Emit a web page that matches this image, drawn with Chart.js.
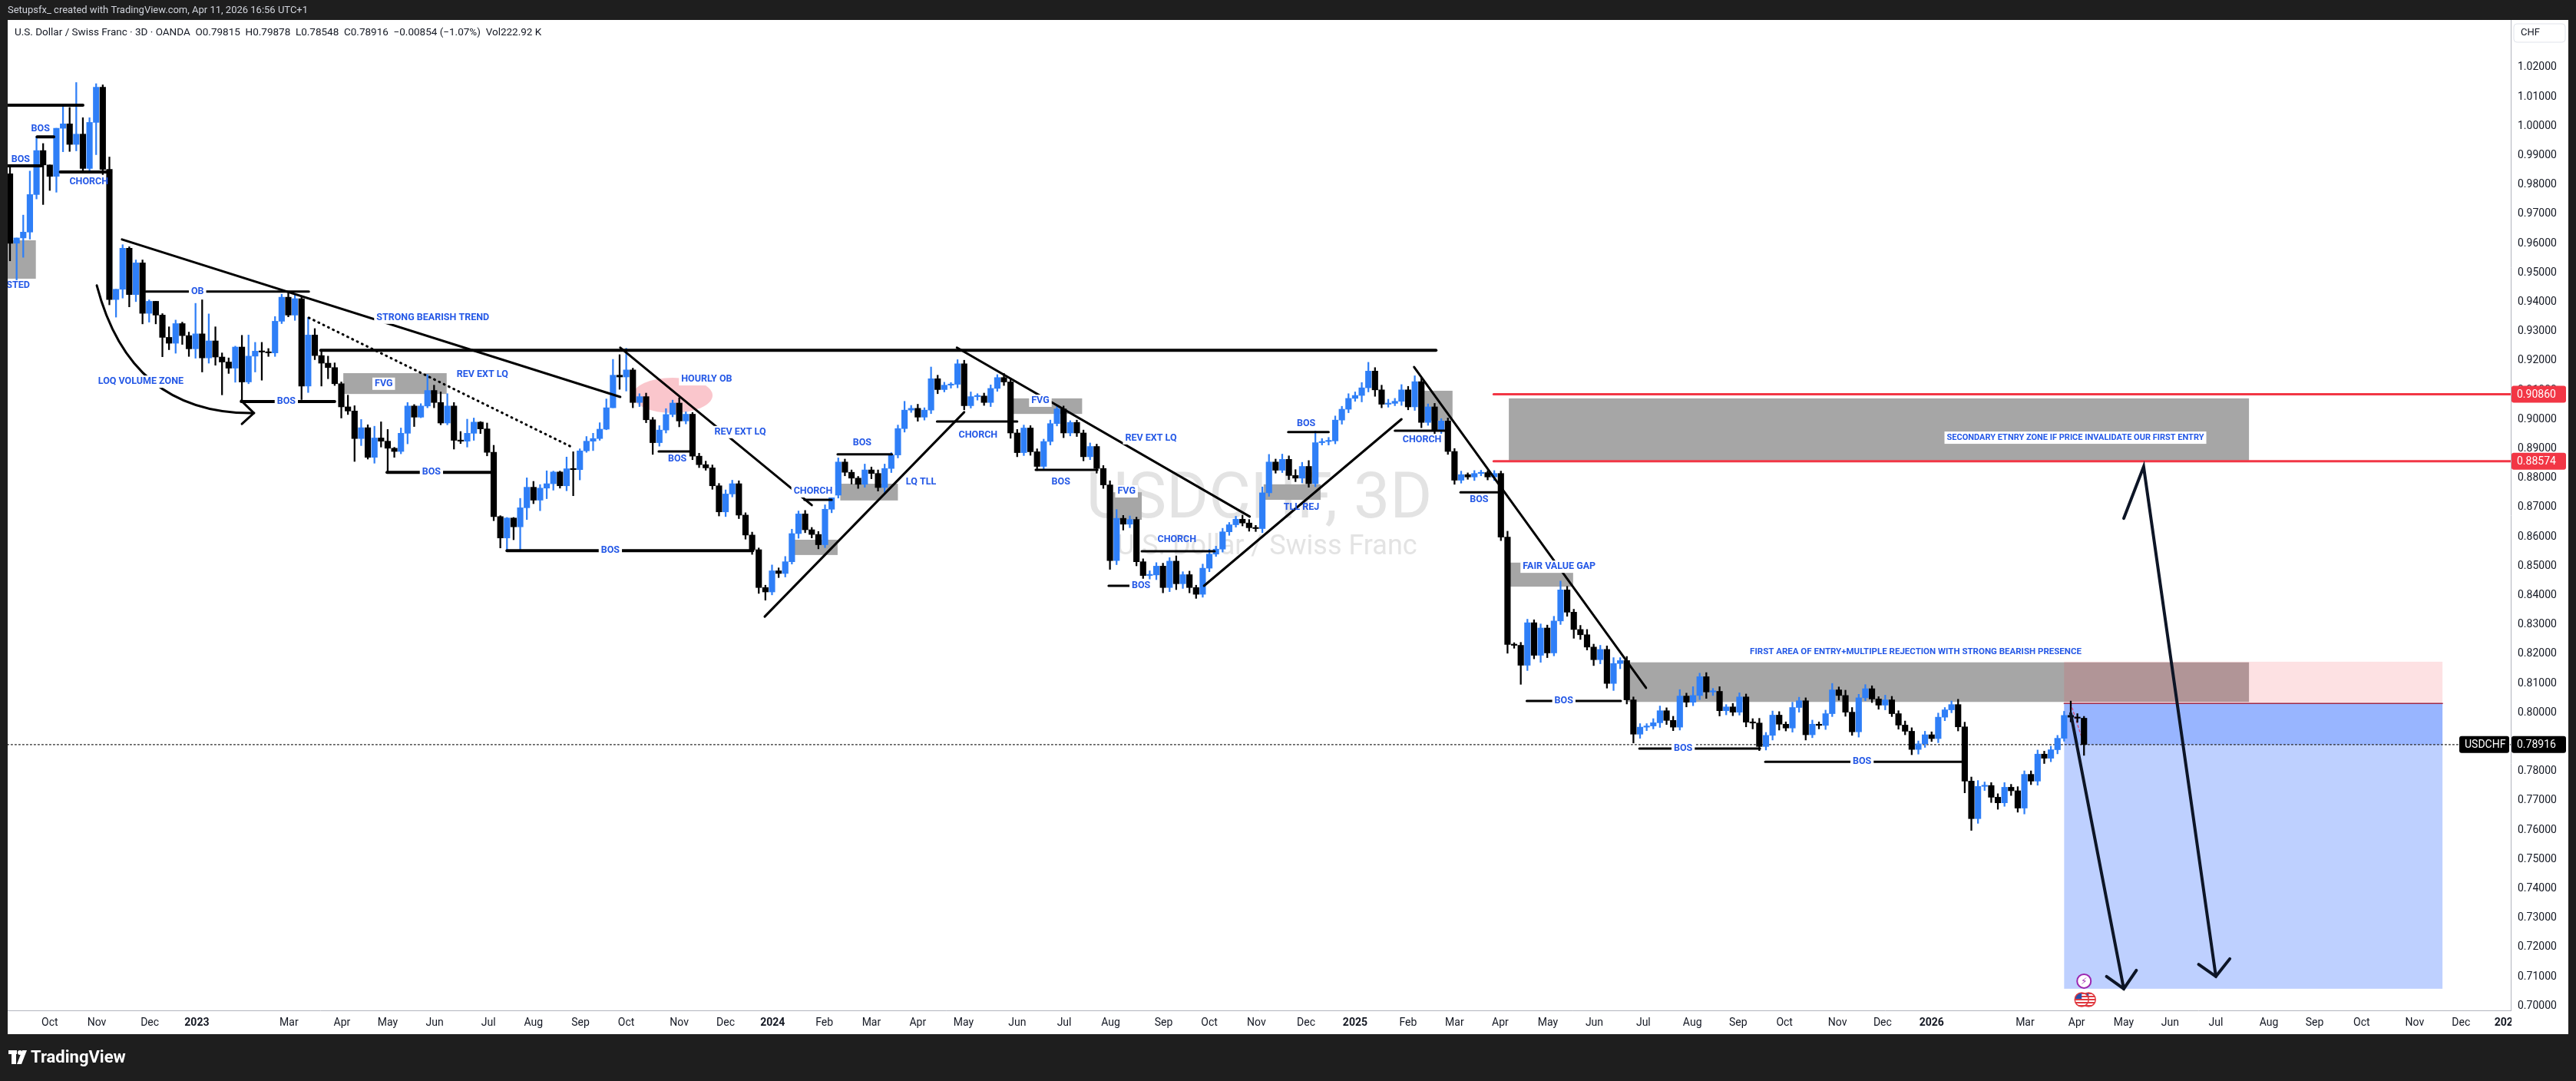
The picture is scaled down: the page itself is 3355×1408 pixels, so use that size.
<!DOCTYPE html>
<html><head><meta charset="utf-8">
<script src="https://cdn.jsdelivr.net/npm/chart.js@4.4.1/dist/chart.umd.min.js"></script>
<style>html,body{margin:0;padding:0;background:#1e1e1e;overflow:hidden}#wrap{position:absolute;left:0;top:0;width:3355px;height:1408px}</style>
</head><body><div id="wrap"><canvas id="c" width="3355" height="1408"></canvas></div>
<script>
const firstOpen = 0.9838;
const closes = [
0.9601,0.9619,0.9639,0.9767,0.9917,0.9868,0.9829,0.9993,1.0008,0.9938,
0.9973,0.9856,1.0013,1.0133,0.9853,0.9409,0.9444,0.9584,0.9426,0.9534,
0.9362,0.9403,0.9356,0.9280,0.9260,0.9327,0.9286,0.9241,0.9292,0.9210,
0.9268,0.9213,0.9196,0.9175,0.9247,0.9128,0.9216,0.9233,0.9230,0.9227,
0.9335,0.9417,0.9356,0.9412,0.9114,0.9288,0.9218,0.9192,0.9177,0.9122,
0.9043,0.9029,0.8935,0.8972,0.8871,0.8937,0.8926,0.8902,0.8891,0.8953,
0.9046,0.9008,0.9046,0.9099,0.9058,0.8988,0.9046,0.8929,0.8926,0.8953,
0.8991,0.8968,0.8888,0.8669,0.8596,0.8664,0.8634,0.8699,0.8769,0.8725,
0.8766,0.8781,0.8821,0.8774,0.8832,0.8829,0.8893,0.8926,0.8935,0.8967,
0.9040,0.9151,0.9145,0.9169,0.9058,0.9078,0.8999,0.8921,0.8964,0.9017,
0.9056,0.8995,0.9018,0.8875,0.8846,0.8835,0.8774,0.8685,0.8746,0.8781,
0.8674,0.8606,0.8556,0.8427,0.8412,0.8484,0.8475,0.8515,0.8611,0.8678,
0.8624,0.8608,0.8573,0.8694,0.8742,0.8855,0.8820,0.8800,0.8779,0.8828,
0.8816,0.8768,0.8833,0.8879,0.8969,0.9032,0.9038,0.9008,0.9032,0.9139,
0.9102,0.9117,0.9120,0.9190,0.9047,0.9078,0.9080,0.9058,0.9106,0.9143,
0.9128,0.8954,0.8887,0.8971,0.8890,0.8840,0.8925,0.8986,0.9036,0.8954,
0.8990,0.8954,0.8873,0.8908,0.8833,0.8777,0.8519,0.8663,0.8643,0.8659,
0.8515,0.8468,0.8470,0.8500,0.8427,0.8517,0.8440,0.8471,0.8427,0.8404,
0.8493,0.8541,0.8558,0.8617,0.8641,0.8660,0.8647,0.8631,0.8628,0.8750,
0.8855,0.8827,0.8864,0.8809,0.8800,0.8840,0.8781,0.8921,0.8925,0.8927,
0.8998,0.9035,0.9072,0.9082,0.9108,0.9165,0.9101,0.9052,0.9055,0.9062,
0.9101,0.9043,0.9129,0.8990,0.9043,0.8964,0.8995,0.8891,0.8793,0.8812,
0.8804,0.8816,0.8819,0.8804,0.8816,0.8599,0.8233,0.8230,0.8162,0.8307,
0.8196,0.8289,0.8204,0.8313,0.8419,0.8343,0.8284,0.8266,0.8224,0.8181,
0.8216,0.8100,0.8168,0.8178,0.8044,0.7927,0.7951,0.7955,0.7966,0.8007,
0.7974,0.7951,0.8057,0.8036,0.8059,0.8123,0.8071,0.8073,0.8007,0.8020,
0.8002,0.8054,0.7968,0.7965,0.7885,0.7923,0.7992,0.7961,0.7948,0.8018,
0.8041,0.7925,0.7961,0.7957,0.7997,0.8078,0.8059,0.8002,0.7935,0.8051,
0.8082,0.8047,0.8026,0.8044,0.7997,0.7958,0.7937,0.7875,0.7894,0.7925,
0.7912,0.7985,0.8010,0.8028,0.7952,0.7767,0.7639,0.7749,0.7752,0.7712,
0.7693,0.7746,0.7734,0.7675,0.7790,0.7767,0.7859,0.7845,0.7874,0.7913,
0.7991,0.7985,0.79815,0.78916];
const wickUp = [
27,0,58,80,48,24,0,0,62,56, 176,56,16,12,8,42,0,12,5,10, 10,5,0,5,36,12,5,12,104,116,
92,48,14,14,3,40,72,30,30,12, 16,10,14,14,8,60,22,19,24,16, 6,40,18,28,10,40,55,40,3,18,
12,5,8,54,18,36,42,12,30,48, 14,2,20,24,3,2,2,32,32,20, 12,44,3,3,40,58,7,16,18,22,
30,54,70,74,6,
10,12,8,15,20,10,18,8,6,10, 12,10,8,14,12,10,8,10,6,8, 20,10,18,15,10,12,8,10,15,12,
14,10,8,6,20,10,12,15,8,12, 30,10,14,8,40,12,10,6,14,12, 16,8,10,12,10,14,8,12,10,8,
10,8,12,14,10,6,8,10,12,8, 10,14,30,10,12,8,10,14,12,10, 12,18,10,12,8,14,16,10,12,8,
10,14,12,8,20,26,10,18,12,20, 14,20,40,10,12,14,10,16,12,18, 30,12,16,14,10,18,12,20,14,10,
12,8,10,10,12,6,10,8,6,10, 8,20,6,10,12,10,14,10,16,30, 12,10,14,18,10,14,12,20,10,14,
10,12,8,14,16,10,14,22,10,30, 12,14,10,16,8,12,14,10,12,16, 10,14,12,8,18,12,10,14,8,12,
22,10,18,16,12,14,10,8,16,12, 10,14,12,10,12,10,14,8,12,18, 16,14,20,12,10,12,16,10,14,12,
12,14,10,12,10,14,49,12,6.3];
const wickDn = [
60,125,66,24,15,135,48,54,80,24, 22,10,12,110,18,18,60,30,42,24, 36,30,30,66,22,34,30,26,32,48,
18,28,112,18,48,66,6,54,96,12, 12,8,6,18,46,22,14,78,38,6, 38,12,78,24,6,20,20,80,20,8,
36,32,2,6,18,6,6,30,8,20, 24,16,12,14,34,42,44,80,40,12, 36,36,22,8,17,89,35,5,32,6,
2,0,42,48,18,
14,10,40,12,10,8,20,10,12,10, 8,12,14,16,10,12,14,16,20,28, 10,14,12,8,16,10,12,14,10,12,
10,12,20,14,10,18,12,16,14,10, 12,8,14,10,12,14,8,10,12,14, 8,12,10,14,10,12,18,14,10,12,
14,10,12,8,16,10,12,14,10,16, 12,30,14,20,12,14,10,12,16,18, 14,20,16,18,14,10,12,8,10,12,
8,10,12,10,14,12,10,8,14,12, 16,12,10,8,12,10,14,12,10,22, 14,22,12,10,8,14,10,12,18,10,
16,12,10,14,10,8,12,8,10,12, 12,30,10,65,18,12,24,16,10,12, 14,30,16,10,20,14,16,24,18,14,
30,14,12,10,16,14,12,10,16,12, 14,22,12,18,14,12,10,16,20,14, 12,16,20,10,14,16,18,10,12,14,
10,16,14,12,18,10,12,14,16,10, 14,12,18,16,12,10,14,12,10,14, 40,40,16,14,18,22,12,16,14,20,
12,14,18,12,14,10,16,14,36.8];
const monthLabels = ['Oct','Nov','Dec','2023','Mar','Apr','May','Jun','Jul','Aug','Sep','Oct','Nov','Dec','2024','Feb','Mar','Apr','May','Jun','Jul','Aug','Sep','Oct','Nov','Dec','2025','Feb','Mar','Apr','May','Jun','Jul','Aug','Sep','Oct','Nov','Dec','2026','Mar','Apr','May','Jun','Jul','Aug','Sep','Oct','Nov','Dec','2027'];
const monthIdx = [6.0,13.1,21.1,28.2,42.1,50.1,57.0,64.1,72.2,79.0,86.1,93.0,101.0,108.0,115.1,122.9,130.0,137.0,143.9,152.0,159.1,166.1,174.1,181.0,188.1,195.6,203.0,211.0,218.0,224.9,232.1,239.1,246.5,253.9,260.8,267.8,275.8,282.6,290.0,304.1,311.9,319.0,326.0,332.9,340.9,347.8,354.9,362.9,369.9,376.8];
const priceTicks = [0.70,0.71,0.72,0.73,0.74,0.75,0.76,0.77,0.78,0.79,0.80,0.81,0.82,0.83,0.84,0.85,0.86,0.87,0.88,0.89,0.90,0.91,0.92,0.93,0.94,0.95,0.96,0.97,0.98,0.99,1.00,1.01,1.02];

const UP='#2f7ff7', DN='#000000';
const opens = closes.map((c,i)=> i===0 ? firstOpen : closes[i-1]);
opens[closes.length-1]=0.79815;
const highs = closes.map((c,i)=> Math.max(c,opens[i]) + wickUp[i]/10000);
const lows = closes.map((c,i)=> Math.min(c,opens[i]) - wickDn[i]/10000);
const colors = closes.map((c,i)=> c>=opens[i]?UP:DN);

const FONT='Roboto';
function drawAnn(chart, phase){
  const ctx=chart.ctx, xs=chart.scales.x, ys=chart.scales.y, a=chart.chartArea;
  const X=v=>xs.getPixelForValue(v), Y=p=>ys.getPixelForValue(p);
  ctx.save(); ctx.beginPath(); ctx.rect(a.left,a.top,a.right-a.left,a.bottom-a.top); ctx.clip();
  const box=(x1,x2,p1,p2,f)=>{ctx.fillStyle=f;ctx.fillRect(X(x1),Y(p1),X(x2)-X(x1),Y(p2)-Y(p1));};
  const seg=(pts,w,col,dash)=>{ctx.beginPath();ctx.strokeStyle=col||'#000';ctx.lineWidth=w;ctx.lineCap='round';ctx.setLineDash(dash||[]);pts.forEach((p,i)=>i?ctx.lineTo(X(p[0]),Y(p[1])):ctx.moveTo(X(p[0]),Y(p[1])));ctx.stroke();ctx.setLineDash([]);};
  const hl=(x1,x2,p,w)=>seg([[x1,p],[x2,p]],w||4,'#000');
  const lab=(t,x,p,align,bg,size)=>{ctx.font='bold '+(size||12.5)+'px '+FONT;ctx.textBaseline='middle';ctx.textAlign=align||'center';
    const w=ctx.measureText(t).width; let px=X(x); let lx=align==='left'?px:align==='right'?px-w:px-w/2;
    if(bg!==false){ctx.fillStyle='#fff';ctx.fillRect(lx-3,Y(p)-8,w+6,16);}
    ctx.fillStyle='#2458e6';ctx.fillText(t,px,Y(p));};
  if(phase==='back'){
    ctx.fillStyle='#e3e3e3';ctx.textAlign='center';ctx.textBaseline='middle';
    ctx.font='84px '+FONT; ctx.fillText('USDCHF, 3D',1640,653);
    ctx.font='36px '+FONT; ctx.fillText('U.S. Dollar / Swiss Franc',1650,713);
    const G='#a6a6a6';
    box(-0.35,3.9,0.9611,0.9480,G);
    box(50.3,65.9,0.9158,0.9087,G);
    box(118.4,124.9,0.8590,0.8538,G);
    box(125.3,134.0,0.8781,0.8724,G);
    box(151.3,161.8,0.9072,0.9019,G);
    box(166.5,170.8,0.8752,0.8658,G);
    box(189.2,197.8,0.8779,0.8726,G);
    box(213.3,217.7,0.9098,0.8996,G);
    box(226.4,235.9,0.8512,0.8430,G);
    box(226.2,337.9,0.9072,0.8860,G);
    box(244.1,337.9,0.8172,0.8037,G);
    // position tool
    box(310.0,367.1,0.8174,0.8032,'rgba(242,54,69,0.15)');
    box(310.0,367.1,0.8032,0.7059,'rgba(41,98,255,0.30)');
    box(310.0,367.1,0.8032,0.78916,'rgba(41,98,255,0.25)');
    seg([[310.0,0.8032],[367.1,0.8032]],1.5,'#9c2a4a');
    seg([[311.0,0.8032],[313.0,0.78916]],1.2,'#e04060',[3,3]);
    // hourly OB ellipse
    ctx.fillStyle='rgba(247,160,170,0.6)';ctx.beginPath();ctx.ellipse(X(100.0),Y(0.9082),52,23,0,0,Math.PI*2);ctx.fill();
    // red lines
    seg([[223.9,0.9086],[400,0.9086]],3,'#f23645');
    seg([[223.9,0.88574],[400,0.88574]],3,'#f23645');
    seg([[-1,0.78916],[400,0.78916]],1.2,'#222',[2,3]);
  } else {
    hl(-0.35,11.0,1.0072);
    hl(4.1,6.6,0.9964); lab('BOS',4.6,0.9991,'center',false);
    hl(-0.35,4.75,0.9865); lab('BOS',1.6,0.9886,'center',false);
    hl(7.6,15.2,0.9844); lab('CHORCH',11.9,0.9810,'center',false);
    lab('TESTED',3.0,0.9457,'right',false);
    seg([[16.9,0.9614],[92.1,0.9077]],3);
    lab('STRONG BEARISH TREND',55.3,0.9347,'left');
    hl(20.5,45.1,0.9436,3); lab('OB',28.3,0.9436,'center');
    ctx.beginPath();ctx.strokeStyle='#000';ctx.lineWidth=3;ctx.moveTo(X(13.1),Y(0.9457));ctx.quadraticCurveTo(X(18.2),Y(0.9017),X(36.8),Y(0.9022));ctx.stroke();
    seg([[34.9,0.9064],[36.8,0.9022],[35.0,0.8985]],3);
    lab('LOQ VOLUME ZONE',13.3,0.9129,'left');
    hl(34.9,49.0,0.9061); lab('BOS',41.7,0.9061,'center');
    seg([[45.1,0.9347],[84.7,0.8907]],3,'#000',[1,6]);
    hl(46.9,215.2,0.9236,4);
    lab('FVG',56.4,0.9122,'center');
    lab('REV EXT LQ',67.4,0.9153,'left');
    hl(56.9,72.9,0.8820); lab('BOS',63.6,0.8820,'center');
    hl(75.0,112.1,0.8553); lab('BOS',90.6,0.8553,'center');
    lab('HOURLY OB',101.3,0.9137,'left');
    seg([[92.1,0.9245],[121.0,0.8708]],3);
    lab('REV EXT LQ',106.3,0.8957,'left');
    hl(97.9,103.1,0.8891,3); lab('BOS',100.7,0.8865,'center',false);
    seg([[113.9,0.8328],[144.0,0.9025]],3);
    hl(119.9,124.0,0.8726,3); lab('CHORCH',121.2,0.8755,'center');
    hl(124.9,133.1,0.8881,3); lab('BOS',128.6,0.8920,'center',false);
    lab('LQ TLL',135.2,0.8786,'left',false);
    seg([[142.9,0.9245],[187.1,0.8669]],3);
    hl(139.9,152.0,0.8993,3); lab('CHORCH',146.1,0.8946,'center',false);
    lab('FVG',155.5,0.9064,'center');
    hl(154.8,164.1,0.8828,3); lab('BOS',158.6,0.8786,'center',false);
    lab('REV EXT LQ',168.3,0.8936,'left');
    lab('FVG',168.5,0.8755,'center');
    hl(165.8,169.1,0.8433,3); lab('BOS',170.7,0.8433,'center');
    hl(170.8,181.8,0.8551,3); lab('CHORCH',176.1,0.8590,'center',false);
    seg([[180.2,0.8433],[210.0,0.9001]],3);
    lab('TLL REJ',194.9,0.8700,'center',false);
    hl(192.9,199.0,0.8957,3); lab('BOS',195.6,0.8985,'center',false);
    hl(209.0,216.8,0.8962,3); lab('CHORCH',213.1,0.8930,'center');
    seg([[211.9,0.9179],[246.9,0.8085]],3);
    hl(218.9,225.0,0.8752,3); lab('BOS',221.7,0.8726,'center',false);
    lab('FAIR VALUE GAP',228.3,0.8498,'left');
    hl(228.9,243.1,0.8040,3); lab('BOS',234.5,0.8040,'center');
    lab('FIRST AREA OF ENTRY+MULTIPLE REJECTION WITH STRONG BEARISH PRESENCE',287.6,0.8208,'center',true,11.5);
    hl(245.9,264.1,0.7878,3); lab('BOS',252.5,0.7878,'center');
    hl(264.9,294.7,0.7833,3); lab('BOS',279.5,0.7833,'center');
    lab('SECONDARY ETNRY ZONE IF PRICE INVALIDATE OUR FIRST ENTRY',311.7,0.8938,'center',true,11);
    const AC='#0d1526';
    seg([[311.0,0.7998],[319.0,0.7059]],4,AC);
    seg([[316.4,0.7101],[319.0,0.7059],[320.9,0.7122]],4,AC);
    seg([[319.0,0.8663],[322.0,0.8839],[332.9,0.7101]],4,AC);
    seg([[330.3,0.7142],[332.9,0.7101],[335.0,0.7161]],4,AC);
    // icons
    const ix=X(313), iy1=Y(0.7085), iy2=Y(0.7022);
    ctx.fillStyle='#fff';ctx.strokeStyle='#9c27b0';ctx.lineWidth=2;ctx.beginPath();ctx.arc(ix,iy1,9,0,7);ctx.fill();ctx.stroke();
    ctx.fillStyle='#9c27b0';ctx.font='12px DejaVu Sans';ctx.textAlign='center';ctx.textBaseline='middle';ctx.fillText('⚡',ix,iy1+1);
    [ix+6,ix-3].forEach(cx=>{ctx.save();ctx.beginPath();ctx.arc(cx,iy2,9,0,7);ctx.fillStyle='#fff';ctx.fill();ctx.clip();
      ctx.fillStyle='#e0383e';for(let k=-9;k<9;k+=4)ctx.fillRect(cx-9,iy2+k,18,2);ctx.fillStyle='#2a4fa8';ctx.fillRect(cx-9,iy2-9,9,8);ctx.restore();
      ctx.strokeStyle='#e0383e';ctx.lineWidth=1.5;ctx.beginPath();ctx.arc(cx,iy2,9,0,7);ctx.stroke();});
  }
  ctx.restore();
}
const annPlugin={id:'ann',
  beforeDraw(chart){const c=chart.ctx;c.save();c.fillStyle='#1e1e1e';c.fillRect(0,0,3355,1408);c.fillStyle='#fff';c.fillRect(10,26,3335,1321);c.restore();},
  beforeDatasetsDraw(chart){drawAnn(chart,'back');},
  afterDatasetsDraw(chart){drawAnn(chart,'front');},
  afterDraw(chart){
    const c=chart.ctx, ys=chart.scales.y; c.save();
    c.fillStyle='#fff';c.fillRect(3271,1318,74,29);
    c.fillStyle='#d1d4dc';c.font='13px '+FONT;c.textBaseline='middle';c.textAlign='left';
    c.fillText('Setupsfx_ created with TradingView.com, Apr 11, 2026 16:56 UTC+1',10,14);
    c.fillStyle='#131722';c.font='13.5px '+FONT;
    c.fillText('U.S. Dollar / Swiss Franc · 3D · OANDA  O0.79815  H0.79878  L0.78548  C0.78916  −0.00854 (−1.07%)  Vol222.92 K',19,43);
    c.strokeStyle='#e0e3eb';c.lineWidth=1;c.beginPath();c.roundRect(3274,31,67,24,4);c.stroke();
    c.fillStyle='#131722';c.font='13px '+FONT;c.fillText('CHF',3283,43);
    const tag=(p,bg,t,x,w)=>{const y=ys.getPixelForValue(p);c.fillStyle=bg;c.beginPath();c.roundRect(x,y-11,w,22,3);c.fill();c.fillStyle='#fff';c.font='14px '+FONT;c.textAlign='left';c.fillText(t,x+7,y+1);};
    tag(0.9086,'#f23645','0.90860',3271,71);
    tag(0.88574,'#f23645','0.88574',3271,71);
    tag(0.78916,'#000','0.78916',3271,71);
    tag(0.78916,'#000','USDCHF',3203,65);
    c.fillStyle='#fff';c.fillRect(11,1368,11,5);c.fillRect(15,1368,6,18);
    c.beginPath();c.arc(26,1371,3,0,7);c.fill();
    c.beginPath();c.moveTo(29,1368);c.lineTo(35,1368);c.lineTo(28,1386);c.lineTo(22,1386);c.fill();
    c.font='bold 22px '+FONT;c.textAlign='left';c.fillText('TradingView',40,1378);
    c.restore();
  }};

new Chart(document.getElementById('c'),{
  type:'bar',
  data:{datasets:[
    {data:closes.map((v,i)=>({x:i,y:[lows[i],highs[i]]})),backgroundColor:colors,barThickness:1.6,grouped:false,minBarLength:1},
    {data:closes.map((v,i)=>({x:i,y:[opens[i],v]})),backgroundColor:colors,barThickness:7.5,grouped:false,minBarLength:1.5}
  ]},
  options:{responsive:false,animation:false,devicePixelRatio:1,events:[],
    layout:{padding:{left:10,top:26,right:10,bottom:61}},
    plugins:{legend:{display:false},tooltip:{enabled:false}},
    scales:{
      x:{type:'linear',min:-0.35,max:377.4,offset:false,grid:{display:false,drawTicks:false},border:{display:true,color:'#b2b5be'},
        afterBuildTicks:s=>{s.ticks=monthIdx.map(v=>({value:v}));},
        afterFit:s=>{s.height=31;},
        ticks:{autoSkip:false,maxRotation:0,padding:8,color:'#131722',
          font:ctx=>({family:FONT,size:14,weight:/^\d{4}$/.test(monthLabels[ctx.index]||'')?'bold':'normal'}),
          callback:(v,i)=>monthLabels[i]}},
      y:{type:'linear',position:'right',min:0.69853,max:1.03623,grid:{display:false,drawTicks:false},border:{display:true,color:'#b2b5be'},
        afterBuildTicks:s=>{s.ticks=priceTicks.map(v=>({value:v}));},
        afterFit:s=>{s.width=75;},
        ticks:{padding:9,color:'#131722',font:{family:FONT,size:14},callback:v=>v.toFixed(5)}}
    }},
  plugins:[annPlugin]
});
</script></body></html>
